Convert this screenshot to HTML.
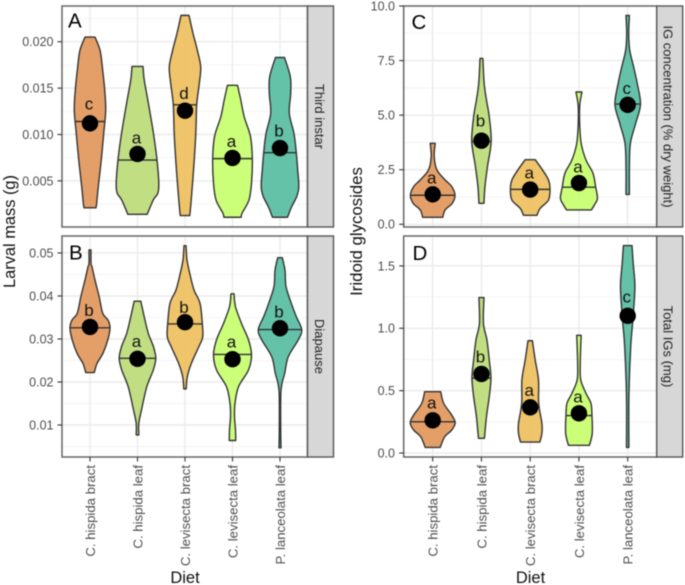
<!DOCTYPE html>
<html>
<head>
<meta charset="utf-8">
<style>
html,body{margin:0;padding:0;background:#fff;width:685px;height:585px;overflow:hidden}
svg{display:block;filter:blur(0.45px)}
text{font-family:"Liberation Sans",sans-serif}
</style>
</head>
<body>
<svg id="chart" width="685" height="585" viewBox="0 0 685 585" xmlns="http://www.w3.org/2000/svg"></svg>
<script>
const categories = ["C. hispida bract","C. hispida leaf","C. levisecta bract","C. levisecta leaf","P. lanceolata leaf"];

const panelAValues = [
 [.0205,.0191,.0173,.0148,.0126,.0101,.0072,.0044,.0026,.0021],
 [.01734,.0159,.01372,.0101,.00725,.00474,.00367,.00295,.0014],
 [.02284,.0209,.0191,.0173,.0155,.0132,.0101,.00654,.00295,.00126],
 [.0153,.01372,.0119,.00977,.0074,.00474,.00295,.0015,.00108],
 [.0183,.01623,.01444,.01228,.0101,.00804,.00618,.00438,.0033,.00223,.00108]
];
const panelADensity = [
 [.25,.5,.615,.735,.785,.685,.56,.415,.335,.3],
 [.275,.335,.515,.8,.975,1.065,1.015,.79,.485],
 [.2,.4,.615,.785,.715,.585,.54,.44,.31,.24],
 [.25,.415,.585,.9,.99,.95,.825,.475,.435],
 [.225,.515,.535,.465,.7,.815,.885,.94,.835,.585,.375]
];
const panelAMedians = [.0114,.00725,.0132,.0074,.00804];
const panelAMeans = [.0112,.0079,.01257,.00747,.00854];
const panelALetters = ["c","a","d","a","b"];
const panelALetterValues = [.01271,.00901,.01383,.00866,.00977];
const panelATicks = [.005,.01,.015,.02];
const panelATickLabels = ["0.005","0.010","0.015","0.020"];
const panelAMinor = [.0025,.0075,.0125,.0175,.0225];

const panelBValues = [
 [.0507,.0476,.0468,.0437,.0398,.036,.0344,.0326,.0298,.0267,.0243,.0222],
 [.0388,.0352,.0313,.0282,.0255,.0228,.0189,.0135,.0104,.0077],
 [.0517,.0484,.0453,.0414,.0383,.0336,.0305,.0282,.0243,.0212,.0184],
 [.0405,.0375,.0336,.0298,.0263,.0228,.0189,.015,.012,.0088,.0064],
 [.0489,.046,.0422,.0383,.0352,.0322,.0298,.0259,.022,.0181,.0088,.0047]
];
const panelBDensity = [
 [.05,.05,.1,.25,.46,.635,.9,1,.89,.65,.35,.215],
 [.165,.335,.54,.8,.915,.79,.465,.2,.065,.065],
 [.05,.1,.235,.45,.75,.865,.885,.69,.315,.115,.06],
 [.075,.15,.45,.8,.95,.8,.3,.125,.1,.15,.16],
 [.115,.25,.3,.565,.815,1.085,.915,.415,.235,.05,.035,.05]
];
const panelBMedians = [.0326,.0255,.0335,.0264,.0322];
const panelBMeans = [.0328,.0254,.0339,.0253,.0325];
const panelBLetters = ["b","a","b","a","b"];
const panelBLetterValues = [.0353,.0281,.0361,.028,.035];
const panelBTicks = [.01,.02,.03,.04,.05];
const panelBTickLabels = ["0.01","0.02","0.03","0.04","0.05"];
const panelBMinor = [.005,.015,.025,.035,.045];

const panelCValues = [
 [3.71,3.1,2.49,2.03,1.73,1.33,.96,.66,.32],
 [7.6,6.46,5.7,4.93,3.79,2.64,1.72,.96],
 [2.96,2.49,2.03,1.6,1.11,.73,.41],
 [6.06,5.46,4.63,3.71,2.95,2.34,1.71,1.19,.89,.66],
 [9.57,8.75,7.98,7.2,6.46,5.5,4.63,3.71,2.64,1.37]
];
const panelCDensity = [
 [.125,.075,.21,.625,.95,1.115,.975,.625,.5],
 [.07,.135,.25,.39,.485,.3,.175,.125],
 [.25,.615,.915,.99,.915,.5,.335],
 [.15,.04,.035,.11,.35,.7,.835,.925,.775,.625],
 [.085,.05,.1,.3,.475,.64,.4,.135,.085,.085]
];
const panelCMedians = [1.33,3.79,1.6,1.7,5.51];
const panelCMeans = [1.37,3.83,1.59,1.89,5.47];
const panelCLetters = ["a","b","a","a","c"];
const panelCLetterValues = [1.88,4.47,2.09,2.37,5.98];
const panelCTicks = [0,2.5,5,7.5,10];
const panelCTickLabels = ["0.0","2.5","5.0","7.5","10.0"];
const panelCMinor = [1.25,3.75,6.25,8.75];

const panelDValues = [
 [.492,.398,.305,.243,.184,.13,.045],
 [1.246,1.04,.906,.746,.6,.452,.29,.118],
 [.9,.746,.586,.398,.238,.158,.088],
 [.944,.72,.586,.479,.398,.3,.158,.062],
 [1.663,1.52,1.334,1.09,.85,.45,.045]
];
const panelDDensity = [
 [.4,.55,.95,1.125,.95,.6,.375],
 [.125,.1,.275,.39,.475,.39,.25,.15],
 [.11,.25,.415,.425,.585,.585,.485],
 [.11,.065,.09,.35,.6,.65,.665,.525],
 [.215,.275,.36,.27,.15,.06,.06]
];
const panelDMedians = [.25,.6,.37,.3,1.1];
const panelDMeans = [.262,.634,.366,.318,1.1];
const panelDLetters = ["a","b","a","a","c"];
const panelDLetterValues = [.358,.725,.457,.405,1.206];
const panelDTicks = [0,.5,1,1.5];
const panelDTickLabels = ["0.0","0.5","1.0","1.5"];
const panelDMinor = [.25,.75,1.25];

const fillColors = ["#E39A60","#BEDC7C","#EEC162","#C8FE72","#5CBFA3"];
const svg = document.getElementById('chart');
const NS = 'http://www.w3.org/2000/svg';

function make(tag, attrs, parent, content) {
  const el = document.createElementNS(NS, tag);
  for (const k in attrs) el.setAttribute(k, attrs[k]);
  if (content !== undefined) el.textContent = content;
  (parent || svg).appendChild(el);
  return el;
}

function densityAt(vals, dens, v) {
  for (let i = 0; i < vals.length - 1; i++) {
    if (v <= vals[i] && v >= vals[i + 1]) {
      const t = (vals[i] - v) / (vals[i] - vals[i + 1]);
      return dens[i] + t * (dens[i + 1] - dens[i]);
    }
  }
  return dens[dens.length - 1];
}

function smoothSide(pts) {
  let d = '';
  for (let i = 0; i < pts.length - 1; i++) {
    const p0 = pts[Math.max(i - 1, 0)], p1 = pts[i], p2 = pts[i + 1], p3 = pts[Math.min(i + 2, pts.length - 1)];
    const c1x = p1[0] + (p2[0] - p0[0]) / 6, c1y = p1[1] + (p2[1] - p0[1]) / 6;
    const c2x = p2[0] - (p3[0] - p1[0]) / 6, c2y = p2[1] - (p3[1] - p1[1]) / 6;
    d += ' C' + c1x.toFixed(2) + ' ' + c1y.toFixed(2) + ' ' + c2x.toFixed(2) + ' ' + c2y.toFixed(2) + ' ' + p2[0].toFixed(2) + ' ' + p2[1].toFixed(2);
  }
  return d;
}

function drawPanel(p) {
  const top = p.top, bottom = p.bottom, left = p.left, right = p.right;
  const g = make('g', {}, svg);
  
  
  const yScale = v => bottom - (v - p.domain[0]) / (p.domain[1] - p.domain[0]) * (bottom - top);
  const xScale = i => p.xStart + i * p.xStep;
  const widthScale = d => d * 20;

  make('rect', {x: left, y: top, width: right - left, height: bottom - top, fill: '#fff'}, g);

  p.minor.forEach(v => {
    const l = make('line', {x1: left, x2: right, y1: yScale(v), y2: yScale(v), stroke: '#F1F1F1', 'stroke-width': 0.8}, g);
    
    
  });
  p.ticks.forEach(v => {
    const l = make('line', {x1: left, x2: right, y1: yScale(v), y2: yScale(v), stroke: '#EBEBEB', 'stroke-width': 1.4}, g);
    
    
  });
  categories.forEach((c, i) => {
    const l = make('line', {x1: xScale(i), x2: xScale(i), y1: top, y2: bottom, stroke: '#EBEBEB', 'stroke-width': 1.4}, g);
    
    
  });

  categories.forEach((c, i) => {
    const vals = p.values[i], dens = p.density[i];
    const cx = xScale(i);
    const rightPts = vals.map((v, j) => [cx + widthScale(dens[j]), yScale(v)]);
    const leftPts = vals.map((v, j) => [cx - widthScale(dens[j]), yScale(v)]).reverse();
    const d = 'M' + rightPts[0][0].toFixed(2) + ' ' + rightPts[0][1].toFixed(2) + smoothSide(rightPts) +
      ' L' + leftPts[0][0].toFixed(2) + ' ' + leftPts[0][1].toFixed(2) + smoothSide(leftPts) + ' Z';
    const vg = make('g', {}, g);
    
    
    const path = make('path', {d: d, fill: fillColors[i], 'fill-opacity': 0.95, stroke: '#333', 'stroke-width': 1.4, 'stroke-linejoin': 'round'}, vg);
    
    
    const hw = widthScale(densityAt(vals, dens, p.medians[i]));
    const med = make('line', {x1: cx - hw, x2: cx + hw, y1: yScale(p.medians[i]), y2: yScale(p.medians[i]), stroke: '#333', 'stroke-width': 1.4}, vg);
    
    
    const dot = make('circle', {cx: cx, cy: yScale(p.means[i]), r: 8.2, fill: '#000'}, vg);
    
    
    const let1 = make('text', {x: cx - 1, y: yScale(p.letterValues[i]), 'text-anchor': 'middle', 'font-size': 17, fill: '#111'}, vg, p.letters[i]);
    
    
  });

  const border = make('rect', {x: left, y: top, width: right - left, height: bottom - top, fill: 'none', stroke: '#666', 'stroke-width': 1.5}, g);
  
  

  const strip = make('rect', {x: right, y: top, width: p.stripWidth, height: bottom - top, fill: '#D7D7D7', stroke: '#555', 'stroke-width': 1.4}, g);
  
  
  const sy = (top + bottom) / 2;
  const stripLabel = make('text', {transform: 'translate(' + (right + p.stripText) + ' ' + sy + ') rotate(90)', 'text-anchor': 'middle', 'font-size': 13, fill: '#222'}, g, p.stripLabel);
  
  

  p.ticks.forEach((v, i) => {
    const t = make('line', {x1: left - 4.5, x2: left, y1: yScale(v), y2: yScale(v), stroke: '#333', 'stroke-width': 1.1}, g);
    
    
    const lab = make('text', {x: left - p.labelGap, y: yScale(v) + 4.4, 'text-anchor': 'end', 'font-size': 12.5, fill: '#4d4d4d'}, g, p.tickLabels[i]);
    
    
  });

  const tag = make('text', {x: p.tagX, y: p.tagY, 'font-size': 20.5, fill: '#000'}, g, p.tag);
  
  

  if (p.showX) {
    categories.forEach((c, i) => {
      const cx = xScale(i);
      const t = make('line', {x1: cx, x2: cx, y1: bottom, y2: bottom + 4.5, stroke: '#333', 'stroke-width': 1.1}, g);
      
      
      const lab = make('text', {transform: 'translate(' + (cx + 5) + ' ' + (bottom + 8) + ') rotate(-90)', 'text-anchor': 'end', 'font-size': 13.2, fill: '#4d4d4d'}, g, c);
      
      
    });
  }
}

drawPanel({name:'panel-a-third-instar', tag:'A', tagX:68, tagY:27.3, top:6, bottom:227, left:62, right:307.5, stripWidth:26, stripText:7.5, labelGap:8.5, stripLabel:'Third instar', xStart:90, xStep:47.5, domain:[.00003,.02385], values:panelAValues, density:panelADensity, medians:panelAMedians, means:panelAMeans, letters:panelALetters, letterValues:panelALetterValues, ticks:panelATicks, tickLabels:panelATickLabels, minor:panelAMinor, showX:false});
drawPanel({name:'panel-b-diapause', tag:'B', tagX:69, tagY:259.3, top:236, bottom:457, left:62, right:307.5, stripWidth:26, stripText:7.5, labelGap:8.5, stripLabel:'Diapause', xStart:90, xStep:47.5, domain:[.00256,.05395], values:panelBValues, density:panelBDensity, medians:panelBMedians, means:panelBMeans, letters:panelBLetters, letterValues:panelBLetterValues, ticks:panelBTicks, tickLabels:panelBTickLabels, minor:panelBMinor, showX:true});
drawPanel({name:'panel-c-ig-concentration', tag:'C', tagX:411.5, tagY:29, top:6, bottom:227, left:403.7, right:656.7, stripWidth:26, stripText:7, labelGap:8.7, stripLabel:'IG concentration (% dry weight)', xStart:432.7, xStep:48.75, domain:[-.124,10], values:panelCValues, density:panelCDensity, medians:panelCMedians, means:panelCMeans, letters:panelCLetters, letterValues:panelCLetterValues, ticks:panelCTicks, tickLabels:panelCTickLabels, minor:panelCMinor, showX:false});
drawPanel({name:'panel-d-total-igs', tag:'D', tagX:412.5, tagY:260, top:236, bottom:457, left:403.7, right:656.7, stripWidth:26, stripText:7, labelGap:8.7, stripLabel:'Total IGs (mg)', xStart:432.7, xStep:48.75, domain:[-.032,1.74], values:panelDValues, density:panelDDensity, medians:panelDMedians, means:panelDMeans, letters:panelDLetters, letterValues:panelDLetterValues, ticks:panelDTicks, tickLabels:panelDTickLabels, minor:panelDMinor, showX:true});

const yTitleLeft = make('text', {transform: 'translate(15 231.5) rotate(-90)', 'text-anchor': 'middle', 'font-size': 16.4, fill: '#111'}, svg, 'Larval mass (g)');


const yTitleRight = make('text', {transform: 'translate(362 231.5) rotate(-90)', 'text-anchor': 'middle', 'font-size': 16.8, fill: '#111'}, svg, 'Iridoid glycosides');


const xTitleLeft = make('text', {x: 185, y: 583, 'text-anchor': 'middle', 'font-size': 16.5, fill: '#111'}, svg, 'Diet');


const xTitleRight = make('text', {x: 530.5, y: 583, 'text-anchor': 'middle', 'font-size': 16.5, fill: '#111'}, svg, 'Diet');


</script>
</body>
</html>
